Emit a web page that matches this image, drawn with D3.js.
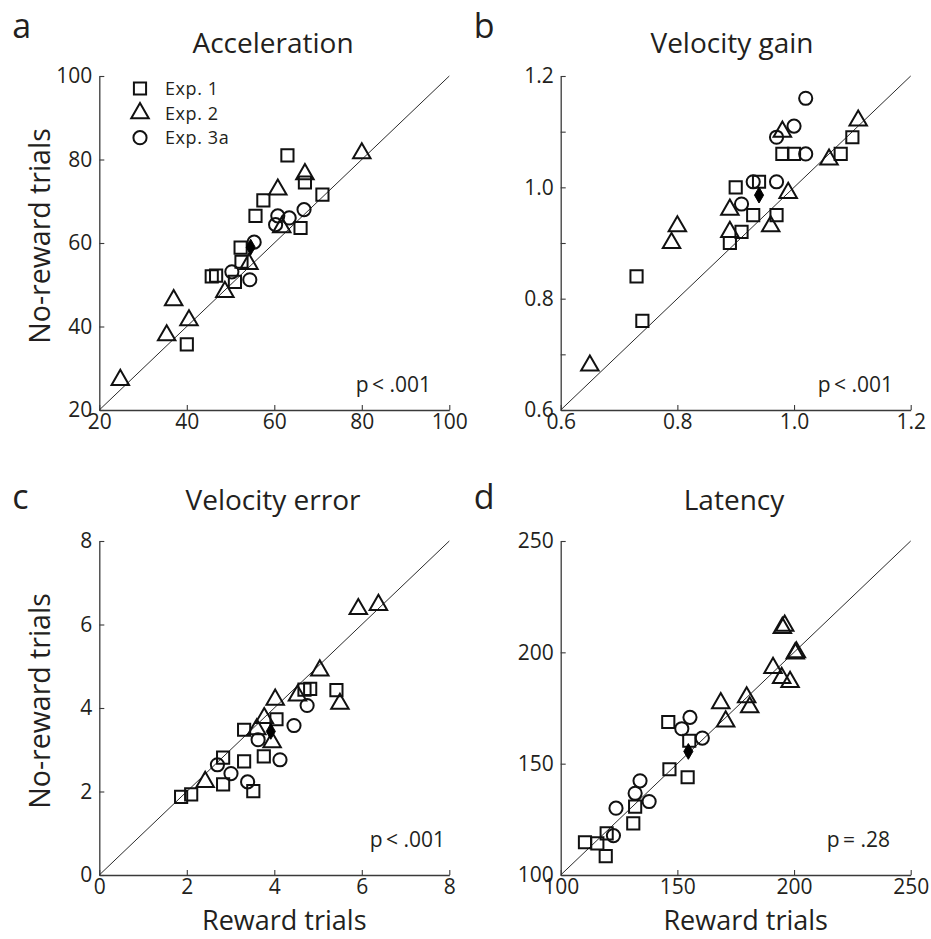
<!DOCTYPE html>
<html>
<head>
<meta charset="utf-8">
<script src="https://cdn.jsdelivr.net/npm/d3@7"></script>
<style>
    html, body { margin: 0; padding: 0; background: #fff; }
    svg text { font-family: "Open Sans", "Noto Sans", sans-serif; fill: #231f20; }
</style>
</head>
<body>
<svg id="chart" width="931" height="939"></svg>
<script>
/* Reward vs no-reward scatter, four panels. */

// Panel a: Acceleration
const accExp1 = [[63, 81], [67, 74.5], [71, 71.6], [57.5, 70.2], [55.7, 66.5], [66, 63.6], [52.3, 58.9],
    [52.5, 55.5], [45.7, 52], [46.7, 52.2], [51, 50.7], [40, 35.7]];
const accExp2 = [[80, 81.5], [67, 76.5], [60.8, 72.8], [61.7, 63.8], [54.2, 55], [48.7, 48.3], [37, 46.3],
    [40.5, 41.5], [35.4, 37.9], [24.8, 27.2]];
const accExp3 = [[66.8, 68], [60.8, 66.5], [63.4, 66], [60.3, 64.4], [55.4, 60.2], [50.3, 53.1], [54.4, 51.2]];
const accMean = [54.6, 59];
const accTicks = [20, 40, 60, 80, 100];

// Panel b: Velocity gain
const gainExp1 = [[1.10, 1.09], [1.08, 1.06], [0.98, 1.06], [1.00, 1.06], [0.90, 1.00], [0.94, 1.01], [0.93, 0.95],
    [0.97, 0.95], [0.91, 0.92], [0.89, 0.90], [0.73, 0.84], [0.74, 0.76]];
const gainExp2 = [[1.11, 1.12], [0.98, 1.10], [1.06, 1.05], [0.99, 0.99], [0.89, 0.96], [0.80, 0.93], [0.89, 0.92],
    [0.96, 0.93], [0.79, 0.90], [0.65, 0.68]];
const gainExp3 = [[1.02, 1.16], [1.00, 1.11], [0.97, 1.09], [1.02, 1.06], [0.93, 1.01], [0.97, 1.01], [0.91, 0.97]];
const gainMean = [0.94, 0.986];
const gainXTicks = [0.6, 0.8, 1.0, 1.2];
const gainYTicks = [0.6, 0.7, 0.8, 0.9, 1.0, 1.1, 1.2];

// Panel c: Velocity error
const errExp1 = [[4.82, 4.46], [4.69, 4.44], [5.42, 4.43], [4.05, 3.73], [3.31, 3.48], [2.83, 2.81], [3.31, 2.72],
    [3.76, 2.84], [2.83, 2.17], [3.52, 2.01], [1.87, 1.87], [2.10, 1.93]];
const errExp2 = [[6.38, 6.47], [5.92, 6.37], [5.04, 4.9], [5.5, 4.1], [4.53, 4.3], [4.02, 4.2], [3.77, 3.76],
    [3.6, 3.49], [3.95, 3.18], [2.42, 2.23]];
const errExp3 = [[4.75, 4.06], [4.45, 3.58], [3.63, 3.24], [4.13, 2.76], [2.70, 2.64], [3.01, 2.43], [3.39, 2.23]];
const errMean = [3.92, 3.44];
const errTicks = [0, 2, 4, 6, 8];

// Panel d: Latency
const latExp1 = [[146.1, 168.7], [155.1, 160.3], [146.6, 147.5], [154.4, 143.9], [131.9, 130.7], [131.1, 123.2],
    [119.7, 118.7], [110.4, 114.7], [115.7, 114.2], [119.3, 108.5]];
const latExp2 = [[196, 212], [195, 211], [201, 200], [200.5, 199.5], [191, 193], [194.7, 188.5], [198.3, 186.7],
    [179.7, 179.8], [181, 175.3], [168.6, 177.2], [170.7, 169]];
const latExp3 = [[155.4, 170.8], [151.9, 165.7], [160.7, 161.5], [134, 142.3], [131.9, 136.7], [137.9, 133],
    [123.7, 130], [122.6, 117.7]];
const latMean = [154.7, 155.5];
const latTicks = [100, 150, 200, 250];

const legendLabels = ['Exp. 1', 'Exp. 2', 'Exp. 3a'];

const svg = d3.select('#chart');

const shapes = [
    d3.symbol().type(d3.symbolSquare).size(148),
    d3.symbol().type(d3.symbolTriangle).size(132),
    d3.symbol().type(d3.symbolCircle).size(136)
];
const diamond = d3.symbol().type(d3.symbolDiamond).size(72);

const panels = [
    { letter: 'a', title: 'Acceleration', box: [99.3, 449.3, 76, 410], domain: [20, 100],
      xTicks: accTicks, yTicks: accTicks, fmt: d3.format('d'),
      sets: [accExp1, accExp2, accExp3], mean: accMean, p: 'p\u2009< .001', pAt: [431, 392],
      legend: true, yTitle: true, xTitle: false, titleX: 273, titleY: 53, letterY: 38 },
    { letter: 'b', title: 'Velocity gain', box: [560.7, 910.7, 76, 410], domain: [0.6, 1.2],
      xTicks: gainXTicks, yTicks: gainYTicks, fmt: d => Math.round(d * 10) % 2 === 0 ? d3.format('.1f')(d) : '',
      sets: [gainExp1, gainExp2, gainExp3], mean: gainMean, p: 'p\u2009< .001', pAt: [893, 392],
      legend: false, yTitle: false, xTitle: false, titleX: 732, titleY: 53, letterY: 38 },
    { letter: 'c', title: 'Velocity error', box: [99.3, 449.3, 541, 875], domain: [0, 8],
      xTicks: errTicks, yTicks: errTicks, fmt: d3.format('d'),
      sets: [errExp1, errExp2, errExp3], mean: errMean, p: 'p\u2009< .001', pAt: [445, 847],
      legend: false, yTitle: true, xTitle: true, titleX: 273, titleY: 510, letterY: 509 },
    { letter: 'd', title: 'Latency', box: [560.7, 910.7, 541, 875], domain: [100, 250],
      xTicks: latTicks, yTicks: latTicks, fmt: d3.format('d'),
      sets: [latExp1, latExp2, latExp3], mean: latMean, p: 'p\u2009= .28', pAt: [890, 847],
      legend: false, yTitle: false, xTitle: true, titleX: 734, titleY: 510, letterY: 509 }
];

panels.forEach(drawPanel);

function drawPanel(cfg) {
    const [left, right, top, bottom] = cfg.box;
    const x = d3.scaleLinear().domain(cfg.domain).range([left, right]);
    const y = d3.scaleLinear().domain(cfg.domain).range([bottom, top]);
    const g = svg.append('g');

    // Axes, MATLAB-style ticks pointing inward
    const xAxis = g.append('g').attr('transform', `translate(0,${bottom})`)
        .call(d3.axisBottom(x).tickValues(cfg.xTicks).tickFormat(cfg.fmt)
            .tickSizeInner(-5).tickSizeOuter(0).tickPadding(4));
    const yAxis = g.append('g').attr('transform', `translate(${left},0)`)
        .call(d3.axisLeft(y).tickValues(cfg.yTicks).tickFormat(cfg.fmt)
            .tickSizeInner(-5).tickSizeOuter(0).tickPadding(7));
    for (const ax of [xAxis, yAxis]) {
        ax.select('.domain').attr('stroke', '#3a3a3a').attr('stroke-width', 1.3);
        ax.selectAll('.tick line').attr('stroke', '#3a3a3a').attr('stroke-width', 1.1);
        ax.selectAll('.tick text').attr('font-size', 21)
            .attr('font-family', '"Open Sans", sans-serif').attr('fill', '#231f20');
    }

    // Unity line
    g.append('path')
        .datum(cfg.domain)
        .attr('d', d3.line().x(d => x(d)).y(d => y(d)))
        .attr('stroke', '#2a2a2a').attr('stroke-width', 1).attr('fill', 'none');

    // Subjects per experiment
    cfg.sets.forEach((set, i) => {
        g.append('g').selectAll('path').data(set).join('path')
            .attr('transform', d => `translate(${x(d[0])},${y(d[1])})`)
            .attr('d', shapes[i])
            .attr('fill', 'none').attr('stroke', '#111').attr('stroke-width', 2);
    });

    // Grand mean
    g.append('path')
        .attr('transform', `translate(${x(cfg.mean[0])},${y(cfg.mean[1])})`)
        .attr('d', diamond).attr('fill', '#000').attr('stroke', '#000').attr('stroke-width', 1);

    // Labels
    svg.append('text').attr('x', cfg.titleX).attr('y', cfg.titleY)
        .attr('text-anchor', 'middle').attr('font-size', 28).text(cfg.title);
    svg.append('text').attr('x', left - 87).attr('y', cfg.letterY)
        .attr('font-size', 34).text(cfg.letter);
    svg.append('text').attr('x', cfg.pAt[0]).attr('y', cfg.pAt[1])
        .attr('text-anchor', 'end').attr('font-size', 21).text(cfg.p);

    if (cfg.xTitle) {
        svg.append('text').attr('x', (left + right) / 2 + 10).attr('y', bottom + 55)
            .attr('text-anchor', 'middle').attr('font-size', 27).text('Reward trials');
    }
    if (cfg.yTitle) {
        svg.append('text')
            .attr('transform', `translate(50,${(top + bottom) / 2 - 7}) rotate(-90)`)
            .attr('text-anchor', 'middle').attr('font-size', 28.5).text('No-reward trials');
    }

    if (cfg.legend) {
        const lg = svg.append('g');
        legendLabels.forEach((label, i) => {
            const ly = 88.5 + i * 24.6;
            lg.append('path').attr('transform', `translate(140,${ly})`)
                .attr('d', shapes[i]).attr('fill', 'none').attr('stroke', '#111').attr('stroke-width', 2);
            lg.append('text').attr('x', 165).attr('y', ly + 6.5)
                .attr('font-size', 18).attr('letter-spacing', 0.6).text(label);
        });
    }
}
</script>
</body>
</html>
